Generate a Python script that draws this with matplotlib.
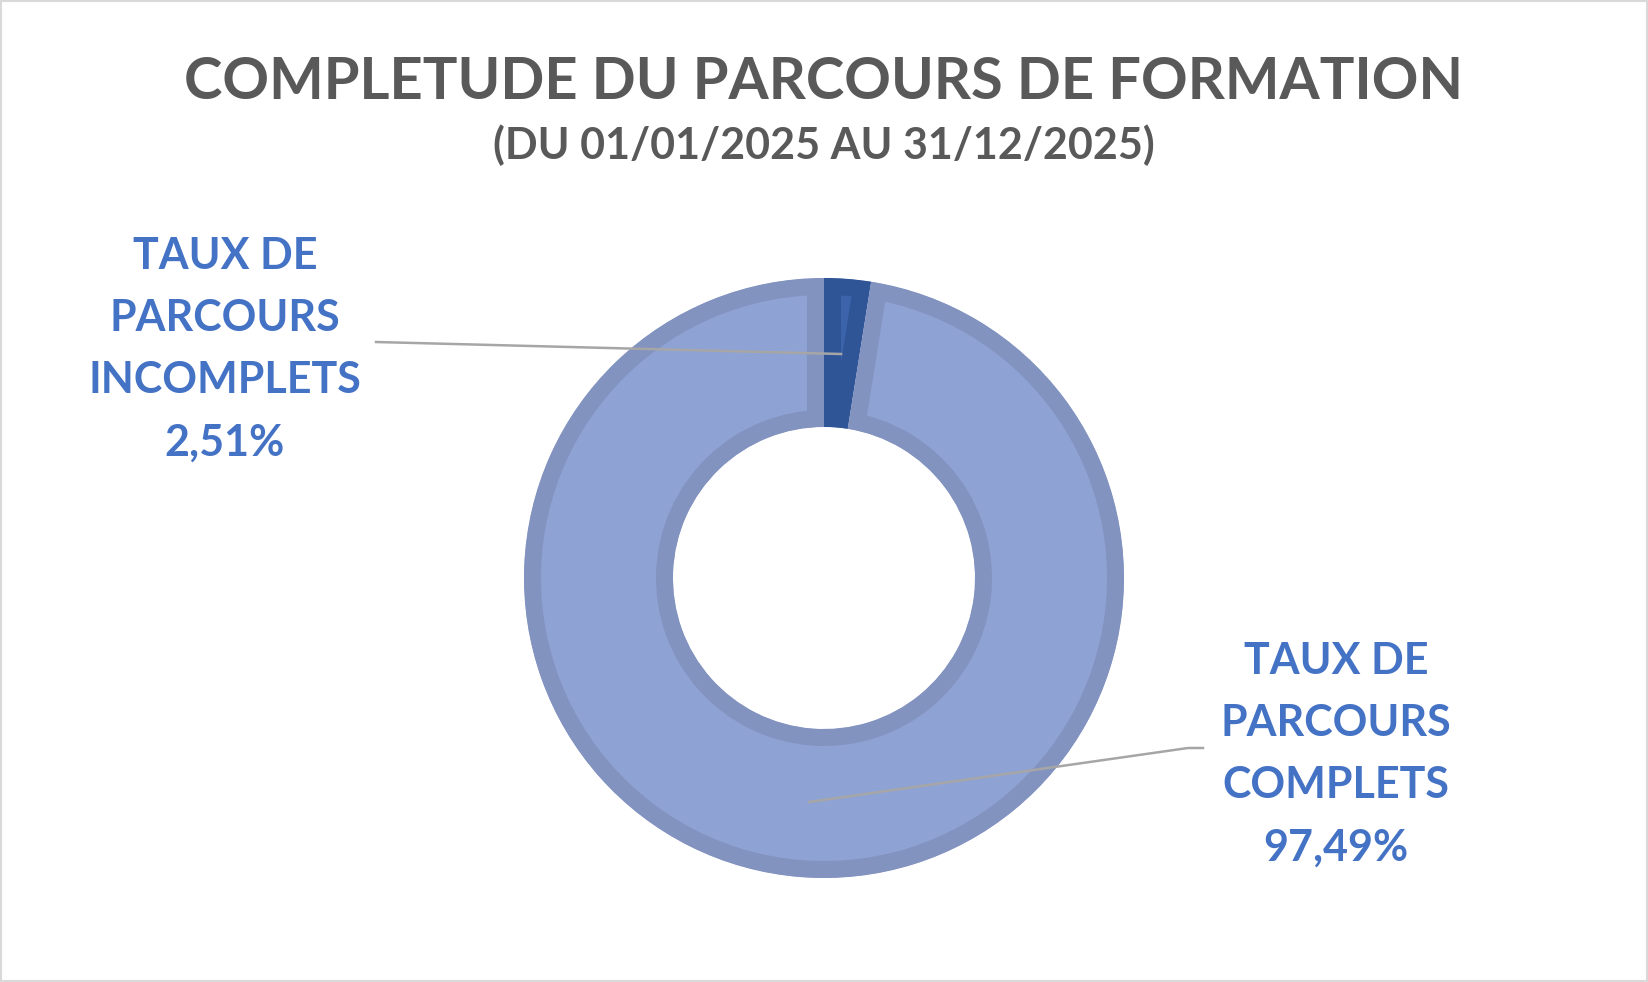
import matplotlib
matplotlib.use("Agg")
import matplotlib.pyplot as plt
from matplotlib.patches import Rectangle

categories = ["TAUX DE\nPARCOURS\nINCOMPLETS", "TAUX DE\nPARCOURS\nCOMPLETS"]
values = [2.51, 97.49]
value_labels = ["2,51%", "97,49%"]
title = "COMPLETUDE DU PARCOURS DE FORMATION"
subtitle = "(DU 01/01/2025 AU 31/12/2025)"

W, H = 1648, 982
plt.rcParams['font.family'] = ['Lato', 'DejaVu Sans']
fig = plt.figure(figsize=(W / 100, H / 100), dpi=100)
ax = fig.add_axes([0, 0, 1, 1])
ax.set_xlim(0, W)
ax.set_ylim(0, H)

def Y(py):
    return H - py

cx, cy = 824, Y(578)
fills = ["#3C64AA", "#8FA2D4"]
edges = ["#2F5597", "#8393C0"]
wedges, _ = ax.pie(values, radius=300, center=(cx, cy), startangle=90,
                   counterclock=False, colors=fills, frame=True,
                   wedgeprops=dict(width=149, linewidth=24.5))
for w, ec in zip(wedges, edges):
    w.set_edgecolor(ec)
    w.set_joinstyle('miter')
    w.set_clip_on(True)
    w.set_clip_path(w.get_path(), ax.transData)

ax.set_xlim(0, W)
ax.set_ylim(0, H)
ax.set_aspect('equal')
ax.axis('off')

# frame
ax.add_patch(Rectangle((1, 1), W - 2, H - 2, fill=False, edgecolor="#D9D9D9", linewidth=1.5, zorder=10))

ax.text(824, Y(82), title, ha='center', va='center', fontsize=41.7, fontweight='bold', color="#595959")
ax.text(824, Y(145), subtitle, ha='center', va='center', fontsize=31, fontweight='bold', color="#595959")

lab_color = "#4472C4"
ax.text(225, Y(349), categories[0] + "\n" + value_labels[0], ha='center', va='center',
        fontsize=31, fontweight='bold', color=lab_color, linespacing=1.675)
ax.text(1336, Y(754), categories[1] + "\n" + value_labels[1], ha='center', va='center',
        fontsize=31, fontweight='bold', color=lab_color, linespacing=1.675)

lc = "#A6A6A6"
ax.plot([376, 841], [Y(342), Y(354)], color=lc, linewidth=1.8, zorder=5)
ax.plot([809, 1188, 1203], [Y(802), Y(748), Y(748)], color=lc, linewidth=1.8, zorder=5)

fig.savefig("out.png", dpi=100)
